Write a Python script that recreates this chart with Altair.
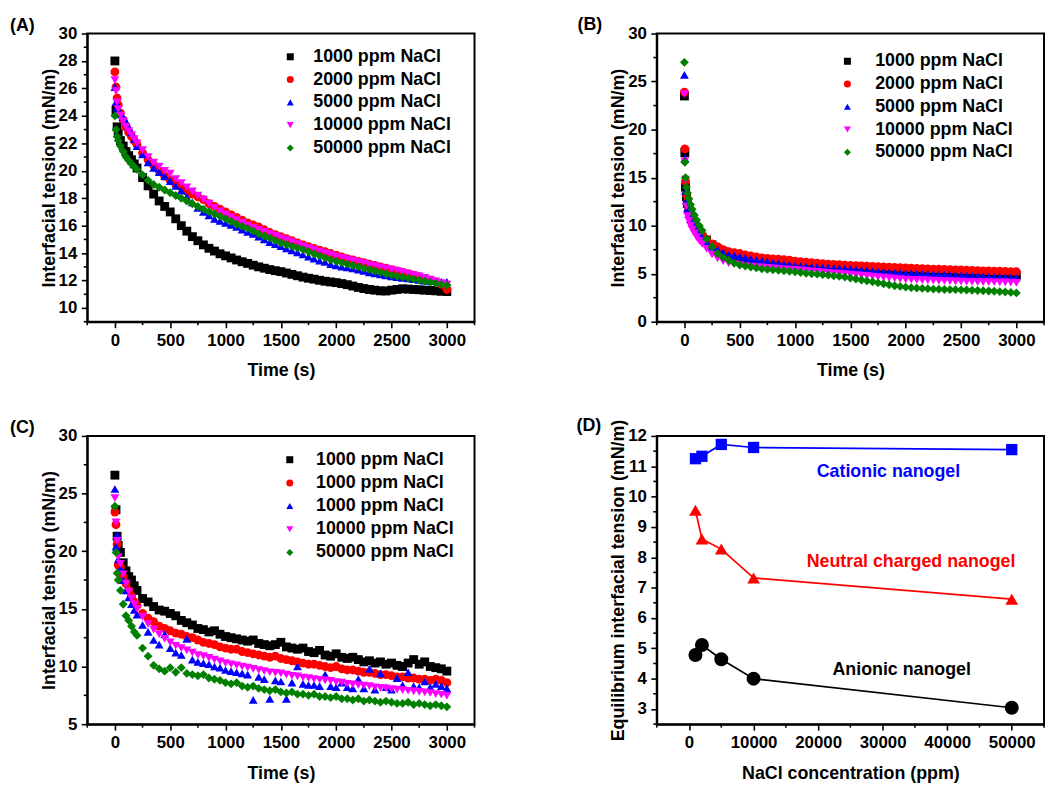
import altair as alt
import pandas as pd

FONT = "Liberation Sans"

# ---------------- data ----------------
# sampling times (s) for panels A and C
T_AC = [0, 10, 20, 30, 50, 75, 100, 125, 150, 175,
        200, 250, 300, 350, 400, 450, 500, 550, 600, 650,
        700, 750, 800, 850, 900, 950, 1000, 1050, 1100, 1150,
        1200, 1250, 1300, 1350, 1400, 1450, 1500, 1550, 1600, 1650,
        1700, 1750, 1800, 1850, 1900, 1950, 2000, 2050, 2100, 2150,
        2200, 2250, 2300, 2350, 2400, 2450, 2500, 2550, 2600, 2650,
        2700, 2750, 2800, 2850, 2900, 2950, 3000]

# sampling times (s) for panel B
T_B = [0, 4, 10, 18, 28, 40, 55, 70, 90, 110, 135, 160,
       200, 250, 300, 350, 400, 450, 500, 550, 600, 650,
       700, 750, 800, 850, 900, 950, 1000, 1050, 1100, 1150,
       1200, 1250, 1300, 1350, 1400, 1450, 1500, 1550, 1600, 1650,
       1700, 1750, 1800, 1850, 1900, 1950, 2000, 2050, 2100, 2150,
       2200, 2250, 2300, 2350, 2400, 2450, 2500, 2550, 2600, 2650,
       2700, 2750, 2800, 2850, 2900, 2950, 3000]

# Panel A: interfacial tension (mN/m)
A_1000 = [28.0, 24.4, 23.2, 22.7, 22.2, 21.8, 21.4, 21.1, 20.8, 20.5,
          20.2, 19.5, 18.9, 18.3, 17.8, 17.4, 17.0, 16.5, 16.0, 15.6,
          15.2, 14.9, 14.6, 14.35, 14.15, 13.95, 13.8, 13.65, 13.5, 13.37,
          13.25, 13.12, 13.0, 12.9, 12.8, 12.72, 12.65, 12.55, 12.45, 12.35,
          12.25, 12.17, 12.1, 12.02, 11.95, 11.9, 11.85, 11.78, 11.7, 11.6,
          11.5, 11.42, 11.35, 11.3, 11.25, 11.24, 11.3, 11.35, 11.4, 11.38,
          11.35, 11.33, 11.3, 11.28, 11.25, 11.22, 11.2]
A_2000 = [27.2, 26.1, 25.3, 24.8, 24.2, 23.7, 23.2, 22.8, 22.5, 22.2,
          21.9, 21.3, 20.8, 20.4, 20.0, 19.6, 19.3, 19.0, 18.8, 18.5,
          18.3, 18.1, 17.9, 17.6, 17.4, 17.2, 17.0, 16.8, 16.6, 16.4,
          16.2, 16.05, 15.9, 15.7, 15.5, 15.35, 15.2, 15.05, 14.9, 14.75,
          14.6, 14.47, 14.35, 14.22, 14.1, 13.97, 13.85, 13.72, 13.6, 13.5,
          13.4, 13.3, 13.2, 13.1, 13.0, 12.9, 12.8, 12.7, 12.6, 12.5,
          12.4, 12.28, 12.15, 12.02, 11.9, 11.75, 11.35]
A_5000 = [26.1, 25.0, 24.6, 24.3, 24.1, 23.9, 23.6, 23.2, 22.8, 22.3,
          21.8, 21.2, 20.6, 20.2, 19.9, 19.6, 19.25, 18.9, 18.55, 18.1,
          17.7, 17.3, 17.0, 16.75, 16.5, 16.35, 16.2, 16.05, 15.9, 15.7,
          15.55, 15.4, 15.2, 15.0, 14.8, 14.65, 14.5, 14.35, 14.2, 14.05,
          13.9, 13.75, 13.6, 13.45, 13.35, 13.2, 13.1, 13.02, 12.95, 12.88,
          12.8, 12.7, 12.6, 12.52, 12.45, 12.38, 12.3, 12.25, 12.2, 12.15,
          12.1, 12.05, 12.0, 11.98, 11.95, 11.92, 11.9]
A_10000 = [26.6, 25.8, 25.0, 24.5, 24.0, 23.6, 23.2, 22.9, 22.6, 22.3,
           22.0, 21.5, 21.0, 20.6, 20.3, 20.0, 19.8, 19.4, 19.1, 18.8,
           18.5, 18.2, 17.9, 17.6, 17.3, 17.05, 16.8, 16.6, 16.4, 16.2,
           16.0, 15.85, 15.7, 15.55, 15.4, 15.25, 15.1, 14.95, 14.8, 14.65,
           14.5, 14.37, 14.25, 14.12, 14.0, 13.87, 13.75, 13.65, 13.55, 13.45,
           13.35, 13.25, 13.15, 13.05, 12.95, 12.87, 12.8, 12.7, 12.6, 12.5,
           12.4, 12.3, 12.2, 12.07, 11.95, 11.82, 11.7]
A_50000 = [24.0, 23.0, 22.5, 22.2, 21.8, 21.4, 21.0, 20.75, 20.5, 20.3,
           20.1, 19.7, 19.3, 19.0, 18.8, 18.6, 18.4, 18.2, 18.0, 17.8,
           17.6, 17.4, 17.2, 17.02, 16.85, 16.68, 16.5, 16.3, 16.1, 15.95,
           15.8, 15.6, 15.4, 15.25, 15.1, 14.92, 14.75, 14.62, 14.5, 14.37,
           14.25, 14.1, 13.95, 13.8, 13.65, 13.52, 13.4, 13.3, 13.2, 13.1,
           13.0, 12.9, 12.8, 12.7, 12.6, 12.5, 12.4, 12.32, 12.25, 12.17,
           12.1, 12.02, 11.95, 11.87, 11.8, 11.72, 11.65]

# Panel B
B_1000 = [23.5, 17.6, 14.0, 13.0, 12.3, 11.7, 11.1, 10.6, 10.1, 9.7, 9.2, 8.8,
          8.5, 8.0, 7.6, 7.3, 7.1, 6.9, 6.75, 6.6, 6.5, 6.4,
          6.3, 6.25, 6.2, 6.15, 6.1, 6.05, 6.0, 5.97, 5.93, 5.9,
          5.87, 5.84, 5.81, 5.78, 5.75, 5.72, 5.7, 5.67, 5.65, 5.62,
          5.6, 5.57, 5.55, 5.52, 5.5, 5.47, 5.45, 5.42, 5.4, 5.37,
          5.35, 5.33, 5.3, 5.28, 5.25, 5.23, 5.2, 5.18, 5.15, 5.12,
          5.1, 5.08, 5.05, 5.02, 5.0, 4.95, 4.85]
B_2000 = [23.9, 18.0, 14.6, 13.2, 12.5, 11.9, 11.3, 10.8, 10.3, 9.9, 9.4, 9.0,
          8.6, 8.1, 7.8, 7.5, 7.3, 7.2, 7.1, 6.95, 6.85, 6.75,
          6.65, 6.6, 6.55, 6.5, 6.45, 6.4, 6.3, 6.25, 6.2, 6.15,
          6.1, 6.05, 6.0, 5.97, 5.93, 5.9, 5.87, 5.84, 5.81, 5.78,
          5.75, 5.72, 5.7, 5.67, 5.65, 5.62, 5.6, 5.57, 5.55, 5.52,
          5.5, 5.48, 5.46, 5.44, 5.42, 5.4, 5.38, 5.36, 5.34, 5.32,
          5.3, 5.28, 5.26, 5.25, 5.24, 5.22, 5.2]
B_5000 = [25.7, 17.0, 13.6, 12.6, 11.8, 11.2, 10.7, 10.3, 9.9, 9.5, 9.0, 8.7,
          8.3, 7.8, 7.5, 7.2, 7.0, 6.9, 6.8, 6.65, 6.55, 6.45,
          6.35, 6.25, 6.15, 6.1, 6.0, 5.95, 5.85, 5.8, 5.75, 5.72,
          5.68, 5.65, 5.62, 5.58, 5.55, 5.52, 5.5, 5.45, 5.4, 5.35,
          5.3, 5.25, 5.2, 5.15, 5.1, 5.08, 5.05, 5.03, 5.0, 4.98,
          4.96, 4.94, 4.92, 4.9, 4.88, 4.86, 4.84, 4.8, 4.77, 4.74,
          4.72, 4.7, 4.68, 4.66, 4.64, 4.62, 4.6]
B_10000 = [23.7, 16.7, 14.8, 12.0, 11.0, 10.5, 10.0, 9.6, 9.2, 8.8, 8.4, 8.1,
           7.6, 7.0, 6.6, 6.3, 6.1, 6.0, 5.9, 5.8, 5.75, 5.7,
           5.65, 5.6, 5.55, 5.5, 5.45, 5.42, 5.4, 5.35, 5.3, 5.25,
           5.2, 5.15, 5.1, 5.05, 5.0, 4.95, 4.9, 4.85, 4.8, 4.75,
           4.7, 4.65, 4.6, 4.55, 4.5, 4.45, 4.4, 4.37, 4.35, 4.32,
           4.3, 4.28, 4.26, 4.24, 4.22, 4.2, 4.18, 4.16, 4.15, 4.14,
           4.13, 4.12, 4.11, 4.1, 4.1, 4.08, 4.05]
B_50000 = [27.0, 16.6, 15.0, 14.0, 13.4, 12.8, 12.2, 11.7, 11.1, 10.6, 10.0, 9.5,
           8.6, 7.8, 7.1, 6.7, 6.4, 6.1, 5.9, 5.8, 5.7, 5.6,
           5.5, 5.45, 5.4, 5.35, 5.3, 5.25, 5.2, 5.12, 5.05, 5.0,
           4.95, 4.9, 4.85, 4.78, 4.72, 4.65, 4.55, 4.45, 4.35, 4.25,
           4.15, 4.05, 3.95, 3.85, 3.75, 3.68, 3.6, 3.55, 3.5, 3.47,
           3.44, 3.4, 3.38, 3.36, 3.35, 3.34, 3.32, 3.3, 3.28, 3.25,
           3.22, 3.2, 3.17, 3.14, 3.1, 3.05, 3.0]

# Panel C
C_S1 = [26.6, 23.6, 21.3, 20.5, 19.9, 19.0, 18.3, 17.8, 17.5, 17.0,
        16.6, 15.9, 15.6, 15.2, 14.9, 14.8, 14.6, 14.4, 14.0, 13.8,
        13.6, 13.3, 13.2, 13.0, 13.1, 12.8, 12.6, 12.5, 12.4, 12.3,
        12.2, 12.3, 12.0, 11.9, 11.8, 11.9, 12.1, 11.7, 11.6, 11.5,
        11.6, 11.3, 11.2, 11.4, 11.0, 10.9, 11.1, 10.8, 10.7, 10.8,
        10.6, 10.4, 10.5, 10.3, 10.4, 10.2, 10.3, 10.1, 10.0, 10.3,
        10.6, 10.2, 10.4, 10.0, 9.9, 9.8, 9.6]
C_S2 = [23.4, 22.3, 20.6, 18.8, 18.6, 17.8, 17.2, 16.6, 16.1, 15.6,
        15.3, 14.6, 14.2, 13.9, 13.5, 13.3, 13.1, 12.9, 12.8, 12.6,
        12.5, 12.3, 12.1, 12.0, 11.9, 11.7, 11.6, 11.5, 11.5, 11.3,
        11.2, 11.1, 11.0, 10.9, 10.8, 10.9, 10.7, 10.6, 10.5, 10.4,
        10.3, 10.2, 10.2, 10.1, 10.0, 9.9, 10.0, 9.8, 9.7, 9.7,
        9.6, 9.5, 9.5, 9.4, 9.3, 9.3, 9.2, 9.1, 9.1, 9.0,
        9.0, 8.9, 8.9, 8.8, 8.9, 8.8, 8.6]
C_S3 = [25.4, 20.4, 21.4, 19.3, 18.5, 17.5, 16.6, 16.0, 15.4, 14.9,
        14.5, 13.6, 13.0, 12.3, 11.9, 12.8, 11.6, 11.2, 11.0, 12.4,
        10.6, 10.4, 10.3, 10.2, 10.0, 9.9, 9.7, 9.6, 9.5, 9.4,
        9.3, 7.1, 9.1, 8.9, 7.2, 8.8, 8.7, 7.2, 8.6, 10.0,
        8.5, 8.4, 8.4, 8.3, 9.3, 8.3, 8.2, 8.6, 8.2, 8.1,
        8.9, 8.1, 9.8, 8.0, 9.4, 8.2, 8.0, 9.0, 8.4, 9.5,
        8.3, 8.2, 8.7, 8.2, 8.5, 8.3, 8.1]
C_S4 = [24.6, 22.5, 20.9, 19.5, 18.9, 18.0, 17.2, 16.5, 15.9, 15.4,
        15.0, 14.3, 13.7, 13.2, 12.8, 12.4, 12.1, 11.8, 11.6, 11.4,
        11.2, 11.0, 10.9, 10.75, 10.6, 10.45, 10.3, 10.2, 10.1, 10.0,
        9.9, 9.8, 9.7, 9.6, 9.5, 9.45, 9.4, 9.3, 9.2, 9.15,
        9.05, 9.0, 8.9, 8.85, 8.8, 8.75, 8.65, 8.6, 8.5, 8.45,
        8.4, 8.35, 8.3, 8.2, 8.15, 8.1, 8.05, 8.0, 7.95, 7.9,
        7.85, 7.8, 7.75, 7.7, 7.6, 7.55, 7.45]
C_S5 = [23.9, 19.9, 18.1, 17.5, 16.6, 15.4, 14.4, 14.0, 13.5, 13.0,
        12.7, 11.6, 10.9, 10.1, 9.8, 9.6, 9.9, 9.5, 9.9, 9.4,
        9.3, 9.2, 9.3, 9.0, 8.9, 8.8, 8.6, 8.5, 8.6, 8.3,
        8.2, 8.3, 8.1, 8.0, 7.9, 8.0, 7.8, 7.7, 7.8, 7.6,
        7.6, 7.5, 7.6, 7.4, 7.4, 7.3, 7.4, 7.2, 7.2, 7.1,
        7.2, 7.0, 7.1, 7.0, 6.9, 7.0, 6.9, 6.8, 6.8, 6.9,
        6.7, 6.8, 6.7, 6.6, 6.7, 6.6, 6.5]

# Panel D: equilibrium interfacial tension
D_CONC = [1000, 2000, 5000, 10000, 50000]
D_CATIONIC = [11.25, 11.33, 11.72, 11.62, 11.55]
D_NEUTRAL = [9.55, 8.6, 8.27, 7.32, 6.62]
D_ANIONIC = [4.78, 5.11, 4.64, 4.0, 3.04]
D_NAMES = ["Cationic nanogel", "Neutral charged nanogel", "Anionic nanogel"]
D_LABEL_X = [30900, 34400, 32950]
D_LABEL_Y = [10.8, 7.85, 4.3]

LABELS_AB = ["1000 ppm NaCl", "2000 ppm NaCl", "5000 ppm NaCl",
             "10000 ppm NaCl", "50000 ppm NaCl"]
LABELS_C = ["1000 ppm NaCl", "1000 ppm NaCl", "1000 ppm NaCl",
            "10000 ppm NaCl", "50000 ppm NaCl"]

KEYS = ["0", "1", "2", "3", "4"]
COLORS = ["#000000", "#ff0000", "#0000ff", "#ff00ff", "#008000"]
SHAPES = ["square", "circle", "triangle-up", "triangle-down", "diamond"]

# axis ticks: major (labelled) and minor
X_TIME_MAJOR = [0, 500, 1000, 1500, 2000, 2500, 3000]
X_TIME_MINOR = [-250, 250, 750, 1250, 1750, 2250, 2750, 3250]
Y_A_MAJOR = [10, 12, 14, 16, 18, 20, 22, 24, 26, 28, 30]
Y_A_MINOR = [9, 11, 13, 15, 17, 19, 21, 23, 25, 27, 29]
Y_B_MAJOR = [0, 5, 10, 15, 20, 25, 30]
Y_B_MINOR = [2.5, 7.5, 12.5, 17.5, 22.5, 27.5]
Y_C_MAJOR = [5, 10, 15, 20, 25, 30]
Y_C_MINOR = [7.5, 12.5, 17.5, 22.5, 27.5]
X_D_MAJOR = [0, 10000, 20000, 30000, 40000, 50000]
X_D_MINOR = [-5000, 5000, 15000, 25000, 35000, 45000, 55000]
Y_D_MAJOR = [3, 4, 5, 6, 7, 8, 9, 10, 11, 12]
Y_D_MINOR = [2.5, 3.5, 4.5, 5.5, 6.5, 7.5, 8.5, 9.5, 10.5, 11.5]

W, H = 391, 291
MINOR_LEN = 3.5


def long_df(times, series):
    rows = []
    for k, vals in enumerate(series):
        assert len(vals) == len(times)
        for t, v in zip(times, vals):
            rows.append({"t": t, "v": v, "s": KEYS[k]})
    return pd.DataFrame(rows)


def make_axis(title, values, title_pad):
    return alt.Axis(
        title=title, values=values, format="d", tickSize=6,
        titlePadding=title_pad, labelOverlap=False, labelFlush=False,
        grid=False,
    )


def minor_layers(xs, ys, xaxis, yaxis, xminor, yminor):
    # short outward ticks at the minor positions, placed through the shared scales
    xr = alt.Chart(pd.DataFrame({"m": xminor})).mark_rule(
        color="black", strokeWidth=1.6
    ).encode(x=alt.X("m:Q", scale=xs, axis=xaxis),
             y=alt.value(H), y2=alt.value(H + MINOR_LEN))
    yr = alt.Chart(pd.DataFrame({"m": yminor})).mark_rule(
        color="black", strokeWidth=1.6
    ).encode(y=alt.Y("m:Q", scale=ys, axis=yaxis),
             x=alt.value(0), x2=alt.value(-MINOR_LEN))
    return [xr, yr]


def tag_layer(tag, tx, ty):
    return alt.Chart(pd.DataFrame({"tag": [tag]})).mark_text(
        align="left", baseline="alphabetic", font=FONT, fontSize=18,
        fontWeight="bold", color="black",
    ).encode(x=alt.value(tx), y=alt.value(ty), text="tag:N")


def time_panel(df, ydom, ymajor, yminor, labels, tag, tag_xy, leg_xy, leg_off, row_pad=5):
    label_expr = "[" + ",".join(f"'{s}'" for s in labels) + "][toNumber(datum.value)]"
    legend = alt.Legend(
        orient="none", legendX=leg_xy[0], legendY=leg_xy[1], title=None,
        labelExpr=label_expr, labelFont=FONT, labelFontSize=18,
        labelFontWeight="bold", labelColor="black", symbolSize=50,
        symbolStrokeWidth=0, rowPadding=row_pad, labelOffset=leg_off, padding=0,
    )
    xs = alt.Scale(domain=[-250, 3250], nice=False, zero=False)
    ys = alt.Scale(domain=ydom, nice=False, zero=False)
    xaxis = make_axis("Time (s)", X_TIME_MAJOR, 14)
    yaxis = make_axis("Interfacial tension (mN/m)", ymajor, 0)
    pts = alt.Chart(df).mark_point(
        filled=True, size=80, opacity=1, strokeWidth=0
    ).encode(
        x=alt.X("t:Q", scale=xs, axis=xaxis),
        y=alt.Y("v:Q", scale=ys, axis=yaxis),
        color=alt.Color("s:N", scale=alt.Scale(domain=KEYS, range=COLORS), legend=legend),
        shape=alt.Shape("s:N", scale=alt.Scale(domain=KEYS, range=SHAPES), legend=legend),
    )
    return alt.layer(pts, *minor_layers(xs, ys, xaxis, yaxis, X_TIME_MINOR, yminor),
                     tag_layer(tag, *tag_xy)).properties(width=W, height=H)


panel_a = time_panel(long_df(T_AC, [A_1000, A_2000, A_5000, A_10000, A_50000]),
                     [9, 30], Y_A_MAJOR, Y_A_MINOR, LABELS_AB, "(A)", (-78, -3),
                     (196, 14.5), 14.2)
panel_b = time_panel(long_df(T_B, [B_1000, B_2000, B_5000, B_10000, B_50000]),
                     [0, 30], Y_B_MAJOR, Y_B_MINOR, LABELS_AB, "(B)", (-80, -4),
                     (183.5, 19), 19.0)
panel_c = time_panel(long_df(T_AC, [C_S1, C_S2, C_S3, C_S4, C_S5]),
                     [5, 30], Y_C_MAJOR, Y_C_MINOR, LABELS_C, "(C)", (-78, -3),
                     (195.5, 15), 17.5, row_pad=5.4)

# Panel D
rows = []
for name, vals in zip(D_NAMES, [D_CATIONIC, D_NEUTRAL, D_ANIONIC]):
    for c, v in zip(D_CONC, vals):
        rows.append({"c": c, "v": v, "s": name})
df_d = pd.DataFrame(rows)
df_lab = pd.DataFrame({"c": D_LABEL_X, "v": D_LABEL_Y, "s": D_NAMES})

d_xs = alt.Scale(domain=[-5000, 55000], nice=False, zero=False)
d_ys = alt.Scale(domain=[2.5, 12], nice=False, zero=False)
d_xaxis = make_axis("NaCl concentration (ppm)", X_D_MAJOR, 14)
d_yaxis = make_axis("Equilibrium interfacial tension (mN/m)", Y_D_MAJOR, 0)
d_color = alt.Color("s:N", scale=alt.Scale(domain=D_NAMES, range=["#0000ff", "#ff0000", "#000000"]),
                    legend=None)
d_x = alt.X("c:Q", scale=d_xs, axis=d_xaxis)
d_y = alt.Y("v:Q", scale=d_ys, axis=d_yaxis)

d_lines = alt.Chart(df_d).mark_line(strokeWidth=1.7).encode(x=d_x, y=d_y, color=d_color, detail="s:N")
d_pts = alt.Chart(df_d).mark_point(filled=True, opacity=1, strokeWidth=0).encode(
    x=d_x, y=d_y, color=d_color,
    shape=alt.Shape("s:N", scale=alt.Scale(domain=D_NAMES, range=["square", "triangle-up", "circle"]),
                    legend=None),
    size=alt.Size("s:N", scale=alt.Scale(domain=D_NAMES, range=[130, 200, 165]), legend=None),
)
d_text = alt.Chart(df_lab).mark_text(
    font=FONT, fontSize=18, fontWeight="bold", align="center", baseline="middle"
).encode(x=d_x, y=d_y, text="s:N", color=d_color)

panel_d = alt.layer(d_lines, d_pts, d_text,
                    *minor_layers(d_xs, d_ys, d_xaxis, d_yaxis, X_D_MINOR, Y_D_MINOR),
                    tag_layer("(D)", -81, -5)).properties(width=W, height=H)

chart = alt.concat(
    panel_a, panel_b, panel_c, panel_d, columns=2,
    spacing={"row": 115.3, "column": 184}, bounds="flush",
).resolve_scale(
    x="independent", y="independent", color="independent", shape="independent", size="independent"
).resolve_legend(color="independent", shape="independent").properties(
    padding={"left": 1, "top": 3, "right": 0, "bottom": 2}
).configure_view(
    stroke="black", strokeWidth=2
).configure_axis(
    labelFont=FONT, labelFontSize=17, labelFontWeight="bold", labelColor="black",
    titleFont=FONT, titleFontSize=18, titleFontWeight="bold", titleColor="black",
    domainColor="black", domainWidth=2, tickColor="black", tickWidth=1.6,
    labelPadding=4.5,
)

chart.save("out.html", embed_options={"renderer": "svg", "actions": False})
